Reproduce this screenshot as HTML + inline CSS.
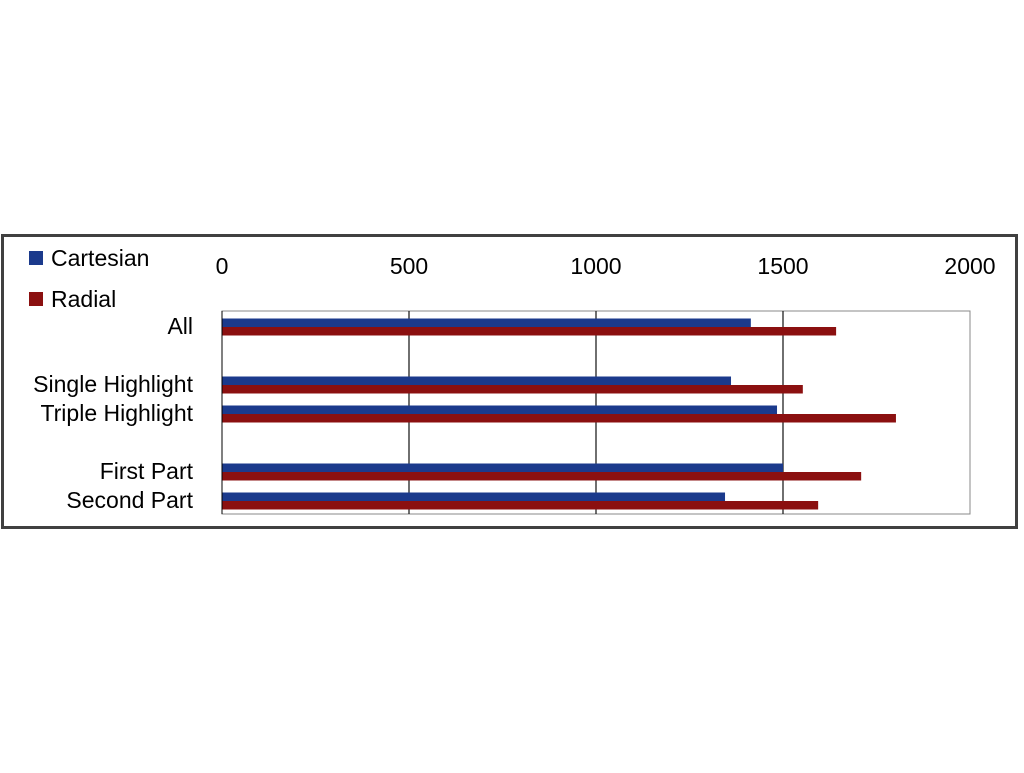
<!DOCTYPE html>
<html><head><meta charset="utf-8"><style>
body{margin:0;width:1024px;height:768px;background:#fff;overflow:hidden;font-family:"Liberation Sans",sans-serif;}
</style></head><body>
<svg width="1024" height="768">
<rect x="2.5" y="235.5" width="1014" height="292" fill="#fff" stroke="#404040" stroke-width="3"/>
<g id="plot"></g>
<g>
<rect x="29" y="251" width="14" height="14" fill="#1b3a8c"/>
<text x="51" y="266" font-size="23" fill="#000">Cartesian</text>
<rect x="29" y="292" width="14" height="14" fill="#8b1010"/>
<text x="51" y="307" font-size="23" fill="#000">Radial</text>
</g>
</svg>
<script>
const categories=["All","","Single Highlight","Triple Highlight","","First Part","Second Part"];
const cartesian=[1414,null,1361,1484,null,1500,1345];
const radial=[1642,null,1553,1802,null,1709,1594];
const ticks=[0,500,1000,1500,2000];
const ns="http://www.w3.org/2000/svg";
const g=document.getElementById('plot');
const X0=222,X1=970,Y0=311,Y1=514,MAX=2000;
const x=v=>X0+(X1-X0)*v/MAX;
const slot=(Y1-Y0)/categories.length;
function mk(t,a){const e=document.createElementNS(ns,t);for(const k in a)e.setAttribute(k,a[k]);g.appendChild(e);return e;}
const bg=mk('rect',{x:X0,y:Y0,width:X1-X0,height:Y1-Y0,fill:'#fff',stroke:'#888','stroke-width':1});


ticks.forEach(t=>{
 if(t>0&&t<MAX){const l=mk('line',{x1:x(t),x2:x(t),y1:Y0,y2:Y1,stroke:'#222','stroke-width':1.3});
 
 }
 const tx=mk('text',{x:x(t),y:274,'font-size':23,'text-anchor':'middle',fill:'#000'});tx.textContent=t;
 
 
});
const bh=8.5;
categories.forEach((c,i)=>{
 const cy=Y0+slot*(i+0.5)+1.5;
 if(cartesian[i]!=null){
  const b=mk('rect',{x:X0,y:cy-bh,width:x(cartesian[i])-X0,height:bh,fill:'#1b3a8c'});
  
  
 }
 if(radial[i]!=null){
  const b=mk('rect',{x:X0,y:cy,width:x(radial[i])-X0,height:bh,fill:'#8b1010'});
  
  
 }
 if(c){const t=mk('text',{x:193,y:cy+7,'font-size':23,'text-anchor':'end',fill:'#000'});t.textContent=c;
 
 }
});
const ax=mk('line',{x1:X0,x2:X0,y1:Y0,y2:Y1,stroke:'#000','stroke-width':1});


</script>
</body></html>
